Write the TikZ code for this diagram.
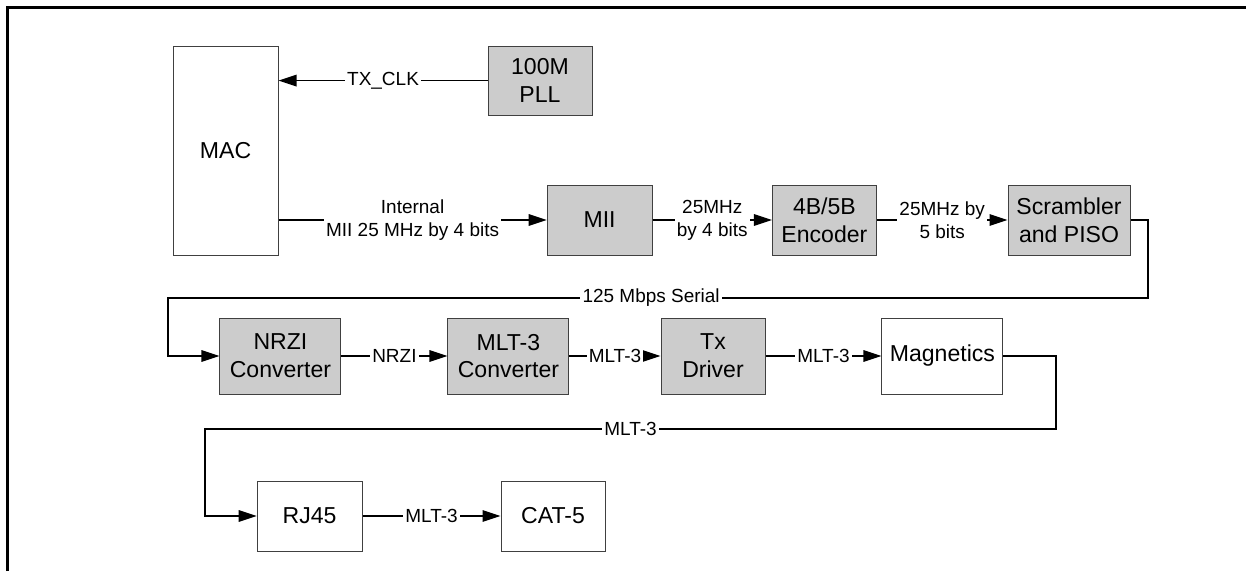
\documentclass[tikz,border=0pt]{standalone}
\usepackage{fontspec}
\setmainfont{Liberation Sans}
\usetikzlibrary{calc,arrows.meta}
\definecolor{boxgray}{HTML}{CCCCCC}
\definecolor{boxedge}{HTML}{404040}

\tikzset{
  blk/.style={draw=boxedge, fill=white, line width=0.7pt, align=center,
    font=\fontsize{16.4}{19.7}\selectfont, inner sep=0pt},
  grayblk/.style={blk, fill=boxgray},
  flow/.style={draw=black, line width=0.9pt, -{Triangle[length=4.5mm, width=2.9mm]}},
  lbl/.style={fill=white, inner sep=1.5pt, align=center,
    font=\fontsize{13.5}{16.2}\selectfont}
}

\begin{document}
\begin{tikzpicture}[x=1cm, y=1cm]

  % Background canvas
  \useasboundingbox (0, 0) rectangle (31.15, 14.275);
  \fill[white] (0, 0) rectangle (31.15, 14.275);

  % Page frame (top and left edges)
  \draw[line width=1.8pt] (0.19, 0) -- (0.19, 14.09) -- (31.15, 14.09);

  % First row: MAC side
  \node[blk, minimum width=2.625cm, minimum height=5.225cm] (mac) at (5.64, 10.51) {MAC};
  \node[grayblk, minimum width=2.6cm, minimum height=1.725cm] (pll) at (13.5, 12.26) {100M\\PLL};
  \node[grayblk, minimum width=2.625cm, minimum height=1.75cm] (mii) at (14.99, 8.775) {MII};
  \node[grayblk, minimum width=2.6cm, minimum height=1.75cm] (enc) at (20.61, 8.775) {4B/5B\\Encoder};
  \node[grayblk, minimum width=3.05cm, minimum height=1.75cm] (scr) at (26.725, 8.775) {Scrambler\\and PISO};

  % Second row: line coding
  \node[grayblk, minimum width=3.025cm, minimum height=1.9cm] (nrzi) at (7.01, 5.375) {NRZI\\Converter};
  \node[grayblk, minimum width=3.025cm, minimum height=1.9cm] (mlt) at (12.71, 5.375) {MLT-3\\Converter};
  \node[grayblk, minimum width=2.6cm, minimum height=1.9cm] (txd) at (17.825, 5.375) {Tx\\Driver};
  \node[blk, minimum width=3.025cm, minimum height=1.9cm] (mag) at (23.56, 5.375) {Magnetics};

  % Third row: cable side
  \node[blk, minimum width=2.625cm, minimum height=1.75cm] (rj) at (7.74, 1.375) {RJ45};
  \node[blk, minimum width=2.6cm, minimum height=1.75cm] (cat) at (13.825, 1.375) {CAT-5};

  % Bend points of the return lines
  \coordinate (s1) at (28.7, 6.825);
  \coordinate (s2) at (4.2, 6.825);
  \coordinate (m1) at (26.4, 3.55);
  \coordinate (m2) at (5.125, 3.55);

  % Clock and data paths
  \draw[flow] (pll.west) -- node[lbl] {TX\_CLK} (pll.west -| mac.east);
  \draw[flow] (mii.west -| mac.east) -- node[lbl] {Internal\\MII 25 MHz by 4 bits} (mii.west);
  \draw[flow] (mii.east) -- node[lbl] {25MHz\\by 4 bits} (enc.west);
  \draw[flow] (enc.east) -- node[lbl] {25MHz by\\5 bits} (scr.west);
  \draw[flow] (scr.east) -| (s1) -- node[lbl, pos=0.507] {125 Mbps Serial} (s2) |- (nrzi.west);
  \draw[flow] (nrzi.east) -- node[lbl] {NRZI} (mlt.west);
  \draw[flow] (mlt.east) -- node[lbl] {MLT-3} (txd.west);
  \draw[flow] (txd.east) -- node[lbl] {MLT-3} (mag.west);
  \draw[flow] (mag.east) -| (m1) -- node[lbl] {MLT-3} (m2) |- (rj.west);
  \draw[flow] (rj.east) -- node[lbl] {MLT-3} (cat.west);

\end{tikzpicture}
\end{document}
